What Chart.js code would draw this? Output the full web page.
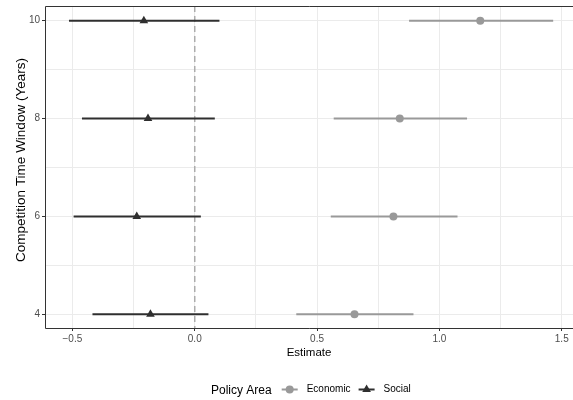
<!DOCTYPE html>
<html>
<head>
<meta charset="utf-8">
<script src="https://cdn.jsdelivr.net/npm/chart.js@4/dist/chart.umd.min.js"></script>
<style>
  html, body { margin: 0; padding: 0; background: #fff; }
  #wrap { width: 573px; height: 400px; }
</style>
</head>
<body>
<div id="wrap"><canvas id="c"></canvas></div>
<script>
// Werte
const years = [4, 6, 8, 10];
const econEst = [0.653, 0.812, 0.838, 1.167];
const econLo  = [0.415, 0.556, 0.568, 0.876];
const econHi  = [0.894, 1.074, 1.113, 1.465];
const socEst  = [-0.181, -0.237, -0.191, -0.208];
const socLo   = [-0.418, -0.495, -0.461, -0.514];
const socHi   = [0.056, 0.025, 0.082, 0.101];

const xTicks = [-0.5, -0.25, 0, 0.25, 0.5, 0.75, 1, 1.25, 1.5];
const xMajor = [-0.5, 0, 0.5, 1, 1.5];
const yTicks = [4, 5, 6, 7, 8, 9, 10];
const yMajor = [4, 6, 8, 10];

const FONT = "'Liberation Sans', Arial, sans-serif";
const ECON = "#999999";
const SOC = "#2f2f2f";

const isMajor = (list, v) => list.some(m => Math.abs(m - v) < 1e-9);

// Fehlerbalken + gestrichelte Nulllinie
const errorBars = {
    id: "errorBars",
    beforeDatasetsDraw(chart) {
        const ctx = chart.ctx;
        const x = chart.scales.x, y = chart.scales.y;
        const { top, bottom } = chart.chartArea;

        ctx.save();
        // Nulllinie
        ctx.strokeStyle = "#acacac";
        ctx.lineWidth = 1.5;
        ctx.setLineDash([6, 4]);
        const x0 = x.getPixelForValue(0);
        ctx.beginPath();
        ctx.moveTo(x0, top);
        ctx.lineTo(x0, bottom);
        ctx.stroke();
        ctx.setLineDash([]);

        chart.data.datasets.forEach(ds => {
            ctx.strokeStyle = ds.borderColor;
            ctx.lineWidth = 2;
            ds.lo.forEach((lo, i) => {
                const py = y.getPixelForValue(ds.data[i].y);
                ctx.beginPath();
                ctx.moveTo(x.getPixelForValue(lo), py);
                ctx.lineTo(x.getPixelForValue(ds.hi[i]), py);
                ctx.stroke();
            });
        });
        ctx.restore();
    },
    afterDraw(chart) {
        const ctx = chart.ctx;
        const { left, top, right, bottom } = chart.chartArea;
        ctx.save();
        // Rahmen um das Panel (rechte Kante liegt außerhalb)
        ctx.strokeStyle = "#333333";
        ctx.lineWidth = 1;
        const l = Math.round(left) + 0.5, t = Math.round(top) + 0.5, b = Math.round(bottom) + 0.5;
        ctx.beginPath();
        ctx.moveTo(right, t);
        ctx.lineTo(l, t);
        ctx.lineTo(l, b);
        ctx.lineTo(right, b);
        ctx.stroke();

        // y-Achsentitel (etwas über der Mitte, wie im Original)
        ctx.save();
        ctx.translate(21, 160);
        ctx.rotate(-Math.PI / 2);
        ctx.fillStyle = "#000";
        ctx.font = "13.5px " + FONT;
        ctx.textAlign = "center";
        ctx.textBaseline = "middle";
        ctx.fillText("Competition Time Window (Years)", 0, 0);
        ctx.restore();

        // Legende unten
        const cy = 389.5;
        let cx = 211;
        ctx.textBaseline = "middle";
        ctx.textAlign = "left";
        ctx.fillStyle = "#000";
        ctx.font = "12px " + FONT;
        ctx.fillText("Policy Area", cx, cy + 1.5);
        cx += ctx.measureText("Policy Area").width + 10;

        ctx.font = "10px " + FONT;
        chart.data.datasets.forEach(ds => {
            ctx.strokeStyle = ds.borderColor;
            ctx.fillStyle = ds.backgroundColor;
            ctx.lineWidth = 2;
            ctx.beginPath();
            ctx.moveTo(cx, cy);
            ctx.lineTo(cx + 16, cy);
            ctx.stroke();
            Chart.helpers.drawPoint(ctx, {
                pointStyle: ds.pointStyle,
                radius: ds.pointRadius,
                borderWidth: 0
            }, cx + 8, cy);
            ctx.fillStyle = "#000";
            cx += 25;
            ctx.fillText(ds.label, cx, cy);
            cx += ctx.measureText(ds.label).width + 8;
        });
        ctx.restore();
    }
};

function series(label, est, lo, hi, color, style, r) {
    return {
        label,
        data: est.map((v, i) => ({ x: v, y: years[i] })),
        lo, hi,
        borderColor: color,
        backgroundColor: color,
        pointStyle: style,
        pointRadius: r,
        pointHoverRadius: r,
        pointBorderWidth: 0
    };
}

new Chart(document.getElementById("c"), {
    type: "scatter",
    plugins: [errorBars],
    data: {
        datasets: [
            series("Economic", econEst, econLo, econHi, ECON, "circle", 4),
            series("Social", socEst, socLo, socHi, SOC, "triangle", 5)
        ]
    },
    options: {
        responsive: true,
        maintainAspectRatio: false,
        animation: false,
        layout: { autoPadding: false, padding: { left: 0, top: 6, right: 0, bottom: 40 } },
        plugins: {
            legend: { display: false },
            tooltip: { enabled: false }
        },
        scales: {
            x: {
                type: "linear",
                min: -0.612,
                max: 1.546,
                afterBuildTicks: s => { s.ticks = xTicks.map(v => ({ value: v })); },
                afterFit: s => { s.height = 32; s.paddingLeft = 0; s.paddingRight = 0; },
                grid: {
                    color: "#ebebeb",
                    tickLength: 3,
                    tickColor: c => isMajor(xMajor, c.tick.value) ? "#333333" : "rgba(0,0,0,0)"
                },
                border: { display: false },
                ticks: {
                    autoSkip: false,
                    maxRotation: 0,
                    padding: 2,
                    color: "#4d4d4d",
                    font: { family: FONT, size: 10 },
                    callback: v => isMajor(xMajor, v) ? v.toFixed(1).replace("-", "\u2212") : ""
                },
                title: {
                    display: true,
                    text: "Estimate",
                    color: "#000",
                    font: { family: FONT, size: 11.5 },
                    padding: { top: 0, bottom: 0 }
                }
            },
            y: {
                type: "linear",
                min: 3.72,
                max: 10.3,
                afterBuildTicks: s => { s.ticks = yTicks.map(v => ({ value: v })); },
                afterFit: s => { s.width = 45; s.paddingTop = 0; s.paddingBottom = 0; },
                grid: {
                    color: "#ebebeb",
                    tickLength: 3,
                    tickColor: c => isMajor(yMajor, c.tick.value) ? "#333333" : "rgba(0,0,0,0)"
                },
                border: { display: false },
                ticks: {
                    autoSkip: false,
                    padding: 2,
                    color: "#4d4d4d",
                    font: { family: FONT, size: 10 },
                    callback: v => isMajor(yMajor, v) ? String(v) : ""
                },
                title: { display: false }
            }
        }
    }
});
</script>
</body>
</html>
